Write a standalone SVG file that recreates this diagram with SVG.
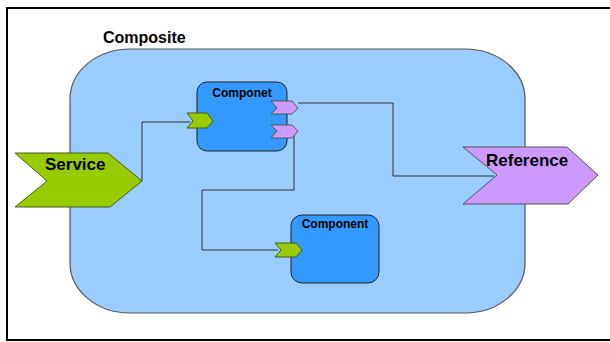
<svg xmlns="http://www.w3.org/2000/svg" width="610" height="342" viewBox="0 0 610 342">
<style>
.lbl{font-family:"Liberation Sans",Arial,sans-serif;font-weight:bold;fill:#000}
.comp{fill:#3399ff;stroke:#222;stroke-width:1}
.svc{fill:#99cc00;stroke:#4a5a20;stroke-width:1}
.ref{fill:#cc99ff;stroke:#555;stroke-width:1}
.wire{fill:none;stroke:#333;stroke-width:1}
</style>
<rect x="7" y="8" width="610" height="332" fill="#fff" stroke="#000" stroke-width="2"/>
<g id="composite">
<rect x="70" y="49" width="455" height="264" rx="60" ry="50" fill="#99ccff" stroke="#555" stroke-width="1.2"/>
<text class="lbl" x="103" y="43" font-size="16">Composite</text>
</g>
<g id="connectors">
<polyline class="wire" points="142,181 142,122 190,122"/>
<polyline class="wire" points="298,103 393,103 393,176 494,176"/>
<polyline class="wire" points="294,133 294,190 202,190 202,250 278,250"/>
</g>
<g id="service">
<polygon class="svc" points="15,153 108,153 142,181 110,207 15,207 47,181"/>
<text class="lbl" x="45" y="170" font-size="17">Service</text>
</g>
<g id="reference">
<polygon class="ref" points="463,147 567,147 598,175 568,204 463,204 497,175"/>
<text class="lbl" x="486" y="166" font-size="17">Reference</text>
</g>
<g id="componet">
<rect class="comp" x="197" y="82" width="90" height="69" rx="10"/>
<text class="lbl" x="242" y="97" font-size="12" text-anchor="middle">Componet</text>
<polygon class="svc" points="187,113 207,113 213,121 207,128 187,128 193,121"/>
<polygon class="ref" points="271,101 292,101 298,108 292,114 271,114 277,108"/>
<polygon class="ref" points="271,125 292,125 298,131 292,138 271,138 277,131"/>
</g>
<g id="component">
<rect class="comp" x="291" y="215" width="88" height="68" rx="11"/>
<text class="lbl" x="335" y="228" font-size="12" text-anchor="middle">Component</text>
<polygon class="svc" points="275,243 296,243 302,250 296,257 275,257 281,250"/>
</g>
</svg>
